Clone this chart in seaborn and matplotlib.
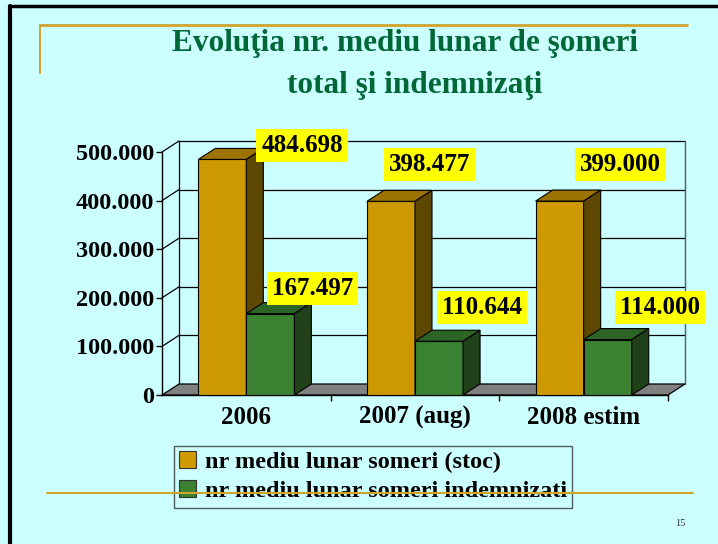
import numpy as np
import pandas as pd
import seaborn as sns
import matplotlib
matplotlib.use("Agg")
import matplotlib.pyplot as plt
from matplotlib.patches import Polygon, Rectangle
from matplotlib.lines import Line2D

# ---------------- data ----------------
categories = ["2006", "2007 (aug)", "2008 estim"]
series_names = ["nr mediu lunar someri (stoc)", "nr mediu lunar someri indemnizati"]
stoc = [484698, 398477, 399000]
indemnizati = [167497, 110644, 114000]
y_ticks = [0, 100000, 200000, 300000, 400000, 500000]
title_lines = ["Evoluţia nr. mediu lunar de şomeri", "total şi indemnizaţi"]
page_number = "15"

# ---------------- layout / style ----------------
BG = "#CCFFFF"
FRONT = ["#CC9900", "#3A8232"]
TOP = ["#9C7300", "#2C6426"]
SIDE = ["#5E4700", "#1F4019"]
DEPTH_PX = (17, 11)
# label offsets in pixels (right, up) from bar front-top centre
label_offsets = [[(80, 14), (39, 37), (61, 37)],
                 [(42, 25), (43, 34), (52, 32)]]
SERIF = "Liberation Serif"

df = pd.DataFrame({
    "cat": categories * 2,
    "series": [series_names[0]] * 3 + [series_names[1]] * 3,
    "val": stoc + indemnizati,
})

sns.set_theme(style="white")
plt.rcParams["font.family"] = [SERIF, "DejaVu Serif"]
plt.rcParams["text.color"] = "black"

W, H = 718, 544
fig = plt.figure(figsize=(W / 100, H / 100), dpi=100, facecolor=BG)
ax = fig.add_axes([162 / W, (H - 395) / H, (668 - 162) / W, (395 - 152) / H])
ax.set_facecolor("none")

sns.barplot(data=df, x="cat", y="val", hue="series", palette=FRONT,
            width=0.57, edgecolor="black", linewidth=0.8, ax=ax,
            saturation=1, legend=False, errorbar=None)

ax.set_xlim(-0.5, 2.5)
ax.set_ylim(0, 500000)

# depth offset in data units
inv = ax.transData.inverted()
o = ax.transData.transform((0, 0))
d = inv.transform(o + np.array(DEPTH_PX))
dx, dy = d[0], d[1]

# floor & walls
x0, x1 = -0.5, 2.5
ax.add_patch(Polygon([(x0, 0), (x1, 0), (x1 + dx, dy), (x0 + dx, dy)],
                     closed=True, fc="#808080", ec="black", lw=0.9,
                     zorder=0.5, clip_on=False))
for yv in y_ticks[1:]:
    ax.plot([x0 + dx, x1 + dx], [yv + dy, yv + dy], color="black", lw=0.9,
            zorder=0.4, clip_on=False)
    ax.plot([x0, x0 + dx], [yv, yv + dy], color="black", lw=0.9,
            zorder=0.4, clip_on=False)
ax.plot([x0 + dx, x0 + dx], [dy, y_ticks[-1] + dy], color="black", lw=0.9,
        zorder=0.4, clip_on=False)
ax.plot([x1 + dx, x1 + dx], [dy, y_ticks[-1] + dy], color="#50605f", lw=1.0,
        zorder=0.4, clip_on=False)

# 3D faces + labels
for si, cont in enumerate(ax.containers):
    for ci, bar in enumerate(cont):
        bx, bw, bh = bar.get_x(), bar.get_width(), bar.get_height()
        bar.set_zorder(3 + si)
        top = Polygon([(bx, bh), (bx + bw, bh), (bx + bw + dx, bh + dy), (bx + dx, bh + dy)],
                      closed=True, fc=TOP[si], ec="black", lw=0.8, zorder=3 + si, clip_on=False)
        side = Polygon([(bx + bw, 0), (bx + bw + dx, dy), (bx + bw + dx, bh + dy), (bx + bw, bh)],
                       closed=True, fc=SIDE[si], ec="black", lw=0.8, zorder=3 + si, clip_on=False)
        ax.add_patch(top)
        ax.add_patch(side)
        ox, oy = label_offsets[si][ci]
        txt = f"{int(bh):,}".replace(",", ".")
        ax.annotate(txt, xy=(bx + bw / 2, bh), xytext=(ox * 0.72, oy * 0.72),
                    textcoords="offset points", ha="center", va="center",
                    fontsize=18, fontweight="bold", color="black", zorder=10,
                    bbox=dict(boxstyle="square,pad=0.2", fc="#FFFF00", ec="none"),
                    annotation_clip=False)

# axes styling
for s in ["top", "right"]:
    ax.spines[s].set_visible(False)
ax.spines["left"].set_color("black")
ax.spines["left"].set_linewidth(1.0)
ax.spines["bottom"].set_color("black")
ax.spines["bottom"].set_linewidth(1.0)
ax.spines["left"].set_zorder(0.6)
ax.spines["bottom"].set_zorder(0.6)

ax.set_yticks(y_ticks)
ax.set_yticklabels([f"{v:,}".replace(",", ".") for v in y_ticks],
                   fontsize=17.5, fontweight="bold", color="black")
ax.tick_params(axis="y", direction="out", length=4, width=1, color="black", pad=1.5, left=True)
ax.set_xticks(range(len(categories)))
ax.set_xticklabels(categories, fontsize=18, fontweight="bold", color="black")
ax.set_xticks([0.5, 1.5, 2.5], minor=True)
ax.tick_params(axis="x", which="major", length=0, pad=8)
ax.tick_params(axis="x", which="minor", direction="out", length=4, width=1,
               color="black", bottom=True)
ax.set_xlabel("")
ax.set_ylabel("")
ax.grid(False)

# title
fig.text(405 / W, 1 - 43 / H, title_lines[0], ha="center", va="center",
         fontsize=22.5, fontweight="bold", color="#006837", family=SERIF)
fig.text(415 / W, 1 - 86 / H, title_lines[1], ha="center", va="center",
         fontsize=22.5, fontweight="bold", color="#006837", family=SERIF)

# legend
handles = [Rectangle((0, 0), 1, 1, fc=FRONT[i], ec="#333333", lw=0.8) for i in range(2)]
leg = fig.legend(handles, series_names, loc="upper left",
                 bbox_to_anchor=(174 / W, 1 - 446 / H), frameon=True,
                 fancybox=False, edgecolor="#333333", facecolor="none",
                 prop=dict(family=SERIF, weight="bold", size=17.5),
                 labelcolor="black",
                 handlelength=0.7, handleheight=0.7, handletextpad=0.35,
                 borderpad=0.22, labelspacing=0.28, borderaxespad=0)
leg.get_frame().set_linewidth(1.0)

# decorative slide lines
gold = "#CFA52E"
fig.add_artist(Line2D([40 / W, 687 / W], [1 - 25 / H, 1 - 25 / H], color=gold, lw=2.0,
                      transform=fig.transFigure))
fig.add_artist(Line2D([40 / W, 40 / W], [1 - 25 / H, 1 - 73 / H], color=gold, lw=1.5,
                      transform=fig.transFigure))
fig.add_artist(Line2D([47 / W, 693 / W], [1 - 493 / H, 1 - 493 / H], color=gold, lw=1.5,
                      transform=fig.transFigure, zorder=20))
fig.add_artist(Line2D([10 / W, 10 / W], [0, 1 - 6 / H], color="black", lw=3.0,
                      transform=fig.transFigure))
fig.add_artist(Line2D([10 / W, 1], [1 - 6 / H, 1 - 6 / H], color="black", lw=2.5,
                      transform=fig.transFigure))

fig.text(680 / W, 1 - 524 / H, page_number, ha="center", va="center",
         fontsize=7.5, color="#333333", family=SERIF)

fig.savefig("out.png", dpi=100, facecolor=BG)
